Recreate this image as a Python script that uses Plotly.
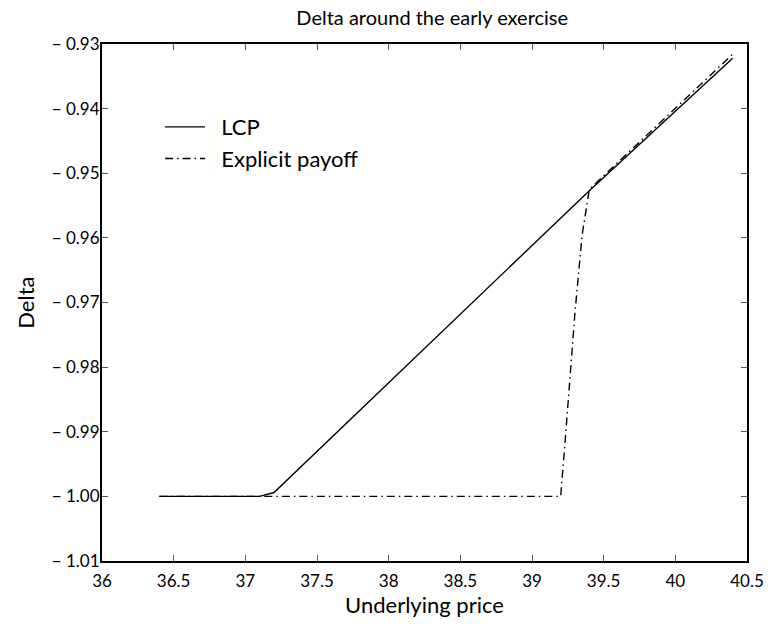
import plotly.graph_objects as go

# Data
lcp_x = [36.4, 37.1, 37.2, 39.4, 40.4]
lcp_y = [-1.0, -1.0, -0.9994, -0.9527, -0.9322]

exp_x = [36.4, 39.2, 39.23, 39.3, 39.35, 39.4, 40.4]
exp_y = [-1.0, -1.0, -0.9918, -0.9715, -0.9595, -0.9525, -0.9316]

xtick_vals = [36, 36.5, 37, 37.5, 38, 38.5, 39, 39.5, 40, 40.5]
xtick_text = ["36", "36.5", "37", "37.5", "38", "38.5", "39", "39.5", "40", "40.5"]
ytick_vals = [-0.93, -0.94, -0.95, -0.96, -0.97, -0.98, -0.99, -1.00, -1.01]
ytick_text = ["\u2212 0.93", "\u2212 0.94", "\u2212 0.95", "\u2212 0.96", "\u2212 0.97",
              "\u2212 0.98", "\u2212 0.99", "\u2212 1.00", "\u2212 1.01"]

FONT = "Lato, 'Open Sans', sans-serif"
NB = "\u00a0\u00a0"

fig = go.Figure()
fig.add_trace(go.Scatter(x=lcp_x, y=lcp_y, mode="lines", name=NB + "LCP",
                         line=dict(color="black", width=1.4)))
fig.add_trace(go.Scatter(x=exp_x, y=exp_y, mode="lines", name=NB + "Explicit payoff",
                         line=dict(color="black", width=1.4, dash="8px,4px,1.5px,4px")))

axis_common = dict(showgrid=False, zeroline=False, showline=True, linecolor="black",
                   linewidth=2, mirror="ticks", ticks="inside", ticklen=6,
                   tickcolor="#555555", tickwidth=1,
                   tickfont=dict(family=FONT, size=17, color="black"))

fig.update_layout(
    width=776, height=627,
    paper_bgcolor="white", plot_bgcolor="white",
    margin=dict(l=102, r=19, t=44, b=66),
    title=dict(text="Delta around the early exercise", x=0.557, xanchor="center",
               y=0.972, yanchor="middle",
               font=dict(family=FONT, size=20, color="black")),
    xaxis=dict(range=[36, 40.5], tickmode="array", tickvals=xtick_vals,
               ticktext=xtick_text, ticklabelstandoff=4,
               title=dict(text="Underlying price", standoff=6,
                          font=dict(family=FONT, size=22, color="black")),
               **axis_common),
    yaxis=dict(range=[-1.01, -0.93], tickmode="array", tickvals=ytick_vals,
               ticktext=ytick_text, ticklabelstandoff=-3,
               **axis_common),
    legend=dict(x=0.09, y=0.88, xanchor="left", yanchor="top",
                bgcolor="rgba(0,0,0,0)", borderwidth=0,
                font=dict(family=FONT, size=22, color="black"),
                itemwidth=40, tracegroupgap=0),
    showlegend=True,
    annotations=[dict(text="Delta", xref="paper", yref="paper", x=-0.119, y=0.5,
                      xanchor="center", yanchor="middle", textangle=-90,
                      showarrow=False,
                      font=dict(family=FONT, size=22, color="black"))],
)

fig.write_html("out.html")
